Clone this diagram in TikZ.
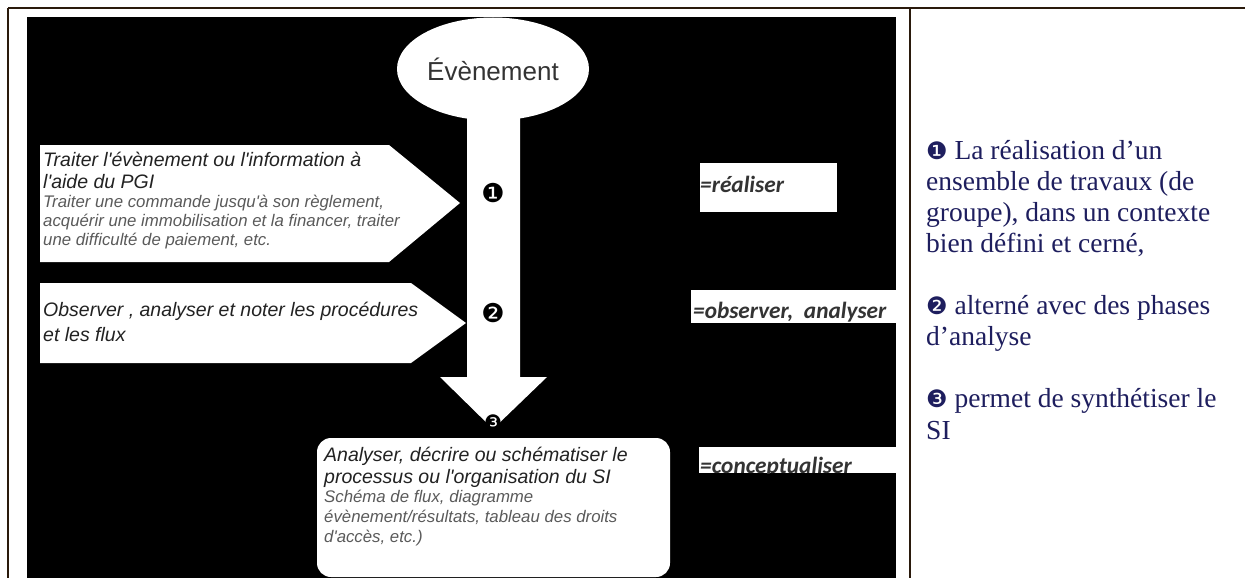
\documentclass[tikz,border=0pt]{standalone}
\usepackage{fontspec}
\usetikzlibrary{shapes.geometric}
\setmainfont{Liberation Serif}
\newfontfamily\arialf{Liberation Sans}
\newfontfamily\calibf{Carlito}
\newfontfamily\dejavf{DejaVu Sans}
\newcommand\rnumfont{\dejavf\fontsize{24}{25}\selectfont}
\definecolor{brd}{HTML}{2A1A0C}
\definecolor{navy}{HTML}{1E1E5E}
\definecolor{hdgray}{HTML}{222222}
\definecolor{sbgray}{HTML}{5A5A5A}
\definecolor{eqgray}{HTML}{333333}
\begin{document}
\begin{tikzpicture}[x=1pt,y=-1pt,
  hd/.style={font=\arialf\itshape\fontsize{19.5}{21}\selectfont, text=hdgray, inner sep=0pt, anchor=base west},
  sb/.style={font=\arialf\itshape\fontsize{16.8}{18}\selectfont, text=sbgray, inner sep=0pt, anchor=base west},
  rt/.style={font=\fontsize{27.5}{30}\selectfont, text=navy, inner sep=0pt, anchor=base west},
  eqt/.style={font=\calibf\bfseries\itshape\fontsize{23.3}{25}\selectfont, text=eqgray, inner sep=0pt, anchor=base west},
  numb/.style={font=\dejavf\fontsize{26}{27}\selectfont, text=black, inner sep=0pt},
  whitebox/.style={fill=white, draw=none},
  rule/.style={draw=brd, line width=2.5pt}]
\useasboundingbox (0,0) rectangle (1245,578);
\fill[white] (0,0) rectangle (1245,578);
% black panel
\fill[black] (27,17) rectangle (896,578);
% table rules
\draw[rule] (8,8) -- (1245,8);
\draw[rule] (8,8) -- (8,578);
\draw[rule] (910,8) -- (910,578);

% big downward arrow
\fill[white] (467,100) -- (520,100) -- (520,377) -- (547,377) -- (493,429) -- (440,377) -- (467,377) -- cycle;
% event ellipse
\node[ellipse, whitebox, minimum width=192pt, minimum height=103pt, inner sep=0pt,
      font=\arialf\fontsize{26}{28}\selectfont, text=eqgray] (ev) at (493,69) {Évènement};

% arrow 1
\fill[white] (40,145) -- (389,145) -- (460,203) -- (389,262) -- (40,262) -- cycle;
\node[hd] (a1l1) at (43,166) {Traiter l'évènement ou l'information à};
\node[hd] (a1l2) at (43,188) {l'aide du PGI};
\node[sb] (a1l3) at (43,207) {Traiter une commande jusqu'à son règlement,};
\node[sb] (a1l4) at (43,226) {acquérir une immobilisation et la financer, traiter};
\node[sb] (a1l5) at (43,245) {une difficulté de paiement, etc.};

% arrow 2
\fill[white] (40,283) -- (411,283) -- (466,323) -- (411,363) -- (40,363) -- cycle;
\node[hd] (a2l1) at (43,316) {Observer , analyser et noter les procédures};
\node[hd] (a2l2) at (43,341) {et les flux};

% numbers on the arrow
\node[numb] (n1) at (493,193) {❶};
\node[numb] (n2) at (493,313) {❷};
\node[numb, font=\dejavf\fontsize{20}{21}\selectfont] (n3) at (493,422) {❸};

% bottom box
\fill[white, rounded corners=14pt] (317,438) rectangle (670,577);
\node[hd] (b1) at (324,461) {Analyser, décrire ou schématiser le};
\node[hd] (b2) at (324,483) {processus ou l'organisation du SI};
\node[sb] (b3) at (324,502) {Schéma de flux, diagramme};
\node[sb] (b4) at (324,522) {évènement/résultats, tableau des droits};
\node[sb] (b5) at (324,542) {d'accès, etc.)};

% right labels
\fill[white] (700,163) rectangle (837,212);
\node[eqt] (e1) at (700,192) {=réaliser};
\begin{scope}
\clip (691,290) rectangle (896,323);
\fill[white] (691,290) rectangle (896,323);
\node[eqt] (e2) at (693,318) {=observer,\ \ analyser};
\end{scope}
\begin{scope}
\clip (699,447) rectangle (896,473);
\fill[white] (699,447) rectangle (896,473);
\node[eqt] (e3) at (700,473) {=conceptualiser};
\end{scope}

% right column text
\node[rt] (r1) at (926,159) {{\rnumfont ❶} La réalisation d’un};
\node[rt] (r2) at (926,190) {ensemble de travaux (de};
\node[rt] (r3) at (926,221) {groupe), dans un contexte};
\node[rt] (r4) at (926,252) {bien défini et cerné,};
\node[rt] (r5) at (926,314) {{\rnumfont ❷} alterné avec des phases};
\node[rt] (r6) at (926,345) {d’analyse};
\node[rt] (r7) at (926,407) {{\rnumfont ❸} permet de synthétiser le};
\node[rt] (r8) at (926,439) {SI};
\end{tikzpicture}
\end{document}
